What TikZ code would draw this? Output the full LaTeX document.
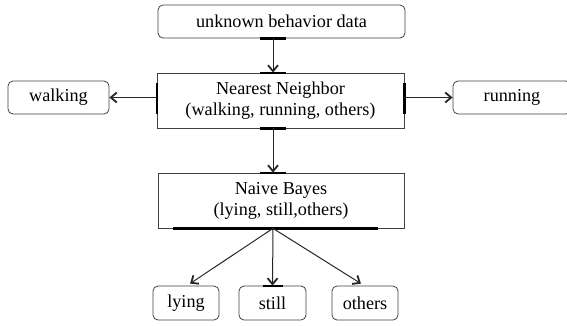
\documentclass[tikz,border=0pt]{standalone}
\usepackage{fontspec}
\setmainfont{Liberation Serif}
\usetikzlibrary{arrows.meta}
\colorlet{boxgray}{black!75}

\tikzset{
    plainbox/.style={draw=boxgray, line width=0.8pt, align=center, inner sep=0pt, font=\fontsize{18.2}{21}\selectfont},
    roundbox/.style={plainbox, rounded corners=5pt},
    joint/.style={line width=2.2pt, black},
    link/.style={->, line width=1pt, black!85}
}

\begin{document}
\begin{tikzpicture}[x=1pt, y=-1pt, >={Straight Barb[length=6pt,width=10pt,line width=1.8pt]}]
        \useasboundingbox (0,0) rectangle (567,325);

        \node[roundbox, minimum width=247pt, minimum height=33pt] (data) at (281.5,21.5) {unknown behavior data};
        \node[plainbox, minimum width=247pt, minimum height=55pt] (nn) at (280.5,100.5) {Nearest Neighbor\\(walking, running, others)};
        \node[roundbox, minimum width=101pt, minimum height=33pt] (walking) at (58.5,97.5) {walking};
        \node[roundbox, minimum width=118pt, minimum height=33pt] (running) at (512,97.5) {running};
        \node[plainbox, minimum width=246pt, minimum height=55pt] (nb) at (281,200.5) {Naive Bayes\\(lying, still,others)};
        \node[roundbox, minimum width=66pt, minimum height=34pt] (lying) at (186,303) {lying};
        \node[roundbox, minimum width=67pt, minimum height=34pt] (still) at (272.5,303) {still};
        \node[roundbox, minimum width=66pt, minimum height=34pt] (others) at (365,303) {others};

        \coordinate (axis) at (273,0);

        % thick marks where the arrows meet the boxes
        \draw[joint] ([xshift=-13pt]data.south -| axis) -- ([xshift=13pt]data.south -| axis);
        \draw[joint] ([xshift=-13pt]nn.north -| axis) -- ([xshift=13pt]nn.north -| axis);
        \draw[joint] ([xshift=-13pt]nn.south -| axis) -- ([xshift=13pt]nn.south -| axis);
        \draw[joint] ([xshift=-13pt]nb.north -| axis) -- ([xshift=13pt]nb.north -| axis);
        \draw[joint] ([yshift=18pt]nn.west) -- ([yshift=-13pt]nn.west);
        \draw[joint] ([yshift=18pt]nn.east) -- ([yshift=-13pt]nn.east);
        \draw[joint] ([xshift=-100pt]nb.south -| axis) -- ([xshift=105pt]nb.south -| axis);
        \draw[joint] ([xshift=-10pt]still.north) -- ([xshift=10pt]still.north);

        \draw[link] (data.south -| axis) -- (nn.north -| axis);
        \draw[link] (nn.west |- walking.east) -- (walking.east);
        \draw[link] (nn.east |- running.west) -- (running.west);
        \draw[link] (nn.south -| axis) -- (nb.north -| axis);
        \draw[link] (nb.south -| axis) -- ([xshift=4pt,yshift=2pt]lying.north);
        \draw[link] (nb.south -| axis) -- (still.north);
        \draw[link] (nb.south -| axis) -- ([xshift=-4pt,yshift=2pt]others.north);

    \end{tikzpicture}
\end{document}
